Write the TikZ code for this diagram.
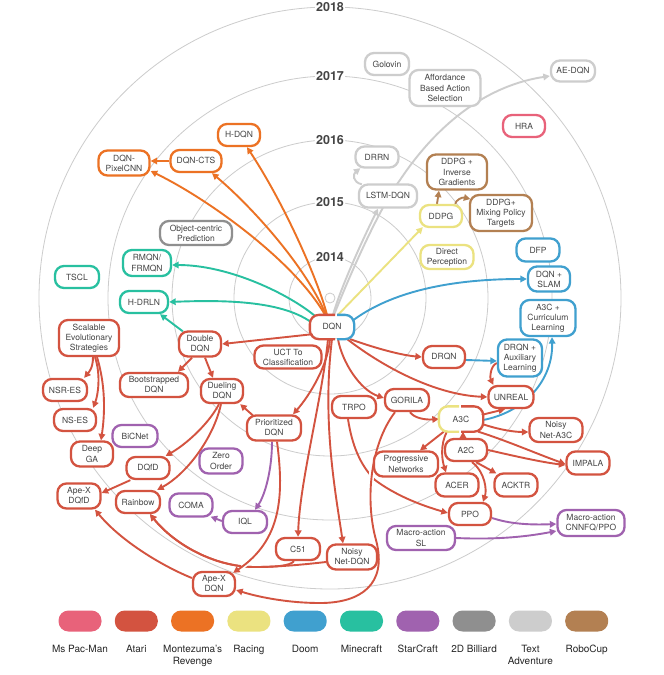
\documentclass[tikz,border=0pt]{standalone}
\usepackage{fontspec}
\setmainfont{TeX Gyre Heros}
\usetikzlibrary{arrows.meta,calc}
\pgfdeclarelayer{back}
\pgfdeclarelayer{mid}
\pgfsetlayers{back,mid,main}
\definecolor{cpink}{HTML}{E8627A}
\definecolor{cred}{HTML}{D35340}
\definecolor{corange}{HTML}{EC7224}
\definecolor{cyellow}{HTML}{EBE280}
\definecolor{cblue}{HTML}{40A0CF}
\definecolor{cteal}{HTML}{28C0A0}
\definecolor{cpurple}{HTML}{A062AF}
\definecolor{cdgray}{HTML}{8F8F8F}
\definecolor{clgray}{HTML}{CDCDCD}
\definecolor{cbrown}{HTML}{B38052}
\definecolor{ctext}{HTML}{444444}
\definecolor{cring}{HTML}{CCCCCC}
\begin{document}
\begin{tikzpicture}[x=1pt,y=-1pt,
  box/.style={draw=#1, line width=2.3pt, rounded corners=9pt, fill=white, text=ctext, align=center, inner sep=1pt, font=\fontsize{8.5}{10.2}\selectfont},
  sz/.style 2 args={minimum width=#1pt, minimum height=#2pt},
  lnk/.style={draw=#1, line width=1.9pt, -{Triangle[length=6.5pt,width=6.5pt]}},
  ring/.style={draw=cring, line width=0.8pt},
  year/.style={fill=white, text=ctext, inner sep=1.5pt, font=\bfseries\fontsize{12.5}{14}\selectfont},
  swatch/.style={fill=#1, draw=none, rounded corners=10pt, minimum width=43pt, minimum height=21pt},
  legtext/.style={anchor=north, align=center, text=black!85, font=\fontsize{10}{12.5}\selectfont, inner sep=0pt}
]
\useasboundingbox (0,0) rectangle (664,675);
\begin{pgfonlayer}{back}
\fill[white] (0,0) rectangle (664,675);
\coordinate (ctr) at (330,298);
\draw[ring] (ctr) circle (5);
\draw[ring] (ctr) circle (41);
\draw[ring] (ctr) circle (96);
\draw[ring] (ctr) circle (158);
\draw[ring] (ctr) circle (222);
\draw[ring] (ctr) circle (291);
\node[year] (y14) at (330,257) {2014};
\node[year] (y15) at (330,202) {2015};
\node[year] (y16) at (330,140) {2016};
\node[year] (y17) at (330,76) {2017};
\node[year] (y18) at (330,7) {2018};
\end{pgfonlayer}

% ---------- nodes ----------
\node[box=cred, draw=none, sz={42}{22}] (dqn) at (332,327) {DQN};
% Montezuma
\node[box=corange, sz={42}{22}] (hdqn) at (239,135) {H-DQN};
\node[box=corange, sz={51}{22}] (dqncts) at (196,161) {DQN-CTS};
\node[box=corange, sz={51}{25}] (pixelcnn) at (124,163) {DQN-\\PixelCNN};
% 2D billiard
\node[box=cdgray, sz={72}{24}] (objcentric) at (196,233) {Object-centric\\Prediction};
% Minecraft
\node[box=cteal, sz={48}{26}] (rmqn) at (147,263) {RMQN/\\FRMQN};
\node[box=cteal, sz={48}{22}] (hdrln) at (144,302) {H-DRLN};
\node[box=cteal, sz={44}{22}] (tscl) at (77,277) {TSCL};
% Atari
\node[box=cred, sz={42}{25}] (doubledqn) at (200,344) {Double\\DQN};
\node[box=cred, sz={67}{23}] (uct) at (288,357) {UCT To\\Classification};
\node[box=cred, sz={68}{24}] (bootstrapped) at (154,385) {Bootstrapped\\DQN};
\node[box=cred, sz={42}{24}] (dueling) at (222,391) {Dueling\\DQN};
\node[box=cred, sz={54}{25}] (prioritized) at (274,428) {Prioritized\\DQN};
\node[box=cred, sz={60}{36}] (ses) at (89,338) {Scalable\\Evolutionary\\Strategies};
\node[box=cred, sz={44}{22}] (nsres) at (65,390) {NSR-ES};
\node[box=cred, sz={42}{22}] (nses) at (75,420) {NS-ES};
\node[box=cred, sz={42}{25}] (deepga) at (92,454) {Deep\\GA};
\node[box=cred, sz={43}{22}] (dqfd) at (148,468) {DQfD};
\node[box=cred, sz={43}{25}] (apexdqfd) at (79,496) {Ape-X\\DQfD};
\node[box=cred, sz={44}{22}] (rainbow) at (138,502) {Rainbow};
\node[box=cred, sz={44}{22}] (c51) at (298,549) {C51};
\node[box=cred, sz={42}{24}] (apexdqn) at (214,584) {Ape-X\\DQN};
\node[box=cred, sz={50}{25}] (noisydqn) at (352,557) {Noisy\\Net-DQN};
\node[box=cred, sz={44}{22}] (trpo) at (354,407) {TRPO};
\node[box=cred, sz={44}{22}] (gorila) at (407,400) {GORILA};
\node[box=cred, sz={42}{22}] (drqn) at (444,357) {DRQN};
\node[box=cred, sz={45}{22}] (unreal) at (511,397) {UNREAL};
\node[box=cred, sz={53}{24}] (noisya3c) at (556,430) {Noisy\\Net-A3C};
\node[box=cred, sz={42}{22}] (a2c) at (466,450) {A2C};
\node[box=cred, sz={43}{23}] (impala) at (588,463) {IMPALA};
\node[box=cred, sz={64}{25}] (prognets) at (406,464) {Progressive\\Networks};
\node[box=cred, sz={43}{23}] (acer) at (457,485) {ACER};
\node[box=cred, sz={43}{23}] (acktr) at (516,485) {ACKTR};
\node[box=cred, sz={42}{22}] (ppo) at (470,514) {PPO};
\node[box=cred, draw=none, sz={42}{23}] (a3c) at (461,419) {A3C};
% StarCraft
\node[box=cpurple, sz={45}{22}] (bicnet) at (135,436) {BiCNet};
\node[box=cpurple, sz={43}{25}] (zeroorder) at (221,461) {Zero\\Order};
\node[box=cpurple, sz={43}{23}] (coma) at (191,505) {COMA};
\node[box=cpurple, sz={44}{22}] (iql) at (245,522) {IQL};
\node[box=cpurple, sz={68}{24}] (macrosl) at (421,538) {Macro-action\\SL};
\node[box=cpurple, sz={67}{26}] (macrocnn) at (591,523) {Macro-action\\CNNFQ/PPO};
% Doom
\node[box=cblue, sz={44}{37}] (drqnaux) at (520,358) {DRQN +\\Auxiliary\\Learning};
\node[box=cblue, sz={43}{23}] (dfp) at (538,250) {DFP};
\node[box=cblue, sz={42}{25}] (dqnslam) at (549,279) {DQN +\\SLAM};
\node[box=cblue, sz={55}{36}] (a3ccurr) at (548,318) {A3C +\\Curriculum\\Learning};
% Racing
\node[box=cyellow, sz={42}{22}] (ddpg) at (441,216) {DDPG};
\node[box=cyellow, sz={53}{24}] (directperc) at (447,257) {Direct\\Perception};
% RoboCup
\node[box=cbrown, sz={60}{35}] (ddpgig) at (457,172) {DDPG +\\Inverse\\Gradients};
\node[box=cbrown, sz={62}{36}] (ddpgmix) at (501,213) {DDPG+\\Mixing Policy\\Targets};
% Text adventure
\node[box=clgray, sz={44}{22}] (golovin) at (387,64) {Golovin};
\node[box=clgray, sz={71}{36}] (affordance) at (445,88) {Affordance\\Based Action\\Selection};
\node[box=clgray, sz={44}{21}] (aedqn) at (573,71) {AE-DQN};
\node[box=clgray, sz={43}{21}] (drrn) at (377,157) {DRRN};
\node[box=clgray, sz={58}{23}] (lstmdqn) at (388,196) {LSTM-DQN};
% Ms Pac-Man
\node[box=cpink, sz={42}{22}] (hra) at (524,126) {HRA};

% bicolour borders
\begin{scope}
\clip ($(dqn.south west)+(-4,4)$) rectangle ($(dqn.north)+(3,-4)$);
\draw[cred, line width=2.3pt, rounded corners=9pt] (dqn.south west) rectangle (dqn.north east);
\end{scope}
\begin{scope}
\clip ($(dqn.north)+(5,-4)$) rectangle ($(dqn.south east)+(4,4)$);
\draw[cblue, line width=2.3pt, rounded corners=9pt] (dqn.south west) rectangle (dqn.north east);
\end{scope}
\begin{scope}
\clip ($(a3c.south west)+(-4,4)$) rectangle ($(a3c.north)+(-2,-4)$);
\draw[cyellow, line width=2.3pt, rounded corners=9pt] (a3c.south west) rectangle (a3c.north east);
\end{scope}
\begin{scope}
\clip ($(a3c.north)+(0,-4)$) rectangle ($(a3c.south east)+(4,4)$);
\draw[cred, line width=2.3pt, rounded corners=9pt] (a3c.south west) rectangle (a3c.north east);
\end{scope}

% ---------- connectors ----------
\begin{pgfonlayer}{mid}
% Montezuma
\draw[lnk=corange] ($(dqn.north)+(-5,0)$) .. controls (318,280) and (285,205) .. ($(hdqn.south)+(8,0)$);
\draw[lnk=corange] ($(dqn.north)+(-6,0)$) .. controls (305,265) and (250,205) .. ($(dqncts.south)+(16,0)$);
\draw[lnk=corange] ($(dqn.north)+(-7,0)$) .. controls (295,262) and (210,200) .. ($(pixelcnn.east)+(0,8)$);
\draw[lnk=corange] (dqncts.west) -- (dqncts.west -| pixelcnn.east);
% Minecraft
\draw[lnk=cteal] ($(dqn.north west)+(5,1)$) .. controls (290,295) and (230,265) .. ($(rmqn.east)+(0,2)$);
\draw[lnk=cteal] ($(dqn.west)+(1,-5)$) .. controls (280,300) and (220,300) .. (hdrln.east);
\draw[lnk=cteal] ($(doubledqn.north west)+(5,1)$) -- ($(hdrln.south)+(16,0)$);
% Racing
\draw[lnk=cyellow] ($(dqn.north)+(6,0)$) -- ($(ddpg.south west)+(4,-1)$);
% Text adventure
\draw[lnk=clgray] ($(dqn.north)+(1,0)$) .. controls (340,290) and (360,245) .. ($(lstmdqn.south)+(-10,0)$);
\draw[lnk=clgray] ($(dqn.north)+(2,0)$) .. controls (360,250) and (385,200) .. (400,180) .. controls (440,120) and (490,85) .. ($(aedqn.west)+(0,5)$);
\draw[lnk=clgray] ($(lstmdqn.north west)+(4,1)$) .. controls (352,182) and (353,174) .. ($(drrn.south west)+(6,-0.5)$);
% Doom
\draw[lnk=cblue] ($(dqn.east)+(-2,-6)$) .. controls (380,300) and (430,279) .. (dqnslam.west);
\draw[lnk=cblue] ($(drqn.east)+(0,3)$) -- ($(drqnaux.west)+(0,3)$);
\draw[lnk=cblue] ($(a3c.east)+(0,1)$) .. controls (525,412) and (553,380) .. ($(a3ccurr.south)+(4,0)$);
% RoboCup
\draw[lnk=cbrown] ($(ddpg.north)+(-4,0)$) -- ($(ddpgig.south)+(-18,0)$);
\draw[lnk=cbrown] ($(ddpg.north east)+(-8,0)$) .. controls (456,200) and (462,197) .. ($(ddpgmix.west)+(1.5,-14)$);
% Atari
\draw[lnk=cred] ($(dqn.south west)+(3,-5)$) -- (doubledqn.east);
\draw[lnk=cred] ($(dqn.south east)+(-4,0)$) .. controls (375,348) and (400,355) .. (drqn.west);
\draw[lnk=cred] ($(dqn.south east)+(-7,0)$) .. controls (390,372) and (440,395) .. (unreal.west);
\draw[lnk=cred] ($(dqn.south)+(6,0)$) .. controls (342,362) and (360,390) .. ($(gorila.west)+(0,-2)$);
\draw[lnk=cred] ($(dqn.south)+(-2,0)$) .. controls (328,365) and (310,395) .. ($(prioritized.north)+(19,0)$);
\draw[lnk=cred] ($(dqn.south)+(-4,0)$) .. controls (322,400) and (300,480) .. (c51.north);
\draw[lnk=cred] (dqn.south) .. controls (322,420) and (335,490) .. ($(noisydqn.north)+(-9,0)$);
\draw[lnk=cred] ($(prioritized.north west)+(7,1)$) -- ($(dueling.south east)+(-4,0)$);
\draw[lnk=cred] ($(doubledqn.south)+(-8,0)$) -- ($(bootstrapped.north)+(24,0)$);
\draw[lnk=cred] ($(doubledqn.south)+(5,0)$) -- ($(dueling.north)+(-9,0)$);
\draw[lnk=cred] ($(ses.south)+(4,0)$) .. controls (93,368) and (89,372) .. ($(nsres.north east)+(-4,0)$);
\draw[lnk=cred] ($(ses.south)+(6,0)$) .. controls (101,375) and (98,395) .. ($(nses.north east)+(-4,0)$);
\draw[lnk=cred] ($(ses.south)+(8,0)$) .. controls (107,390) and (104,420) .. ($(deepga.north)+(9,0)$);
\draw[lnk=cred] ($(dueling.south)+(-3,0)$) .. controls (208,425) and (185,445) .. ($(dqfd.north east)+(-5,0)$);
\draw[lnk=cred] ($(dueling.south)+(-1,0)$) .. controls (213,440) and (185,475) .. ($(rainbow.north east)+(-4,0)$);
\draw[lnk=cred] ($(dqfd.south west)+(5,0)$) -- ($(apexdqfd.east)+(0,-3)$);
\draw[lnk=cred] ($(apexdqn.west)+(0,-6)$) .. controls (160,565) and (120,540) .. ($(apexdqfd.south)+(16,0)$);
\draw[lnk=cred] ($(c51.south)+(-4,0)$) .. controls (290,566) and (275,567) .. (255,567) .. controls (215,567) and (175,545) .. ($(rainbow.south)+(12,0)$);
\draw[lnk=cred] ($(noisydqn.west)+(0,5)$) .. controls (300,565) and (275,567) .. (255,567) .. controls (215,567) and (175,545) .. ($(rainbow.south)+(12,0)$);
\begin{scope}
\clip (249,564) circle (8);
\draw[white, line width=6pt] ($(prioritized.south)+(3,0)$) .. controls (284,495) and (282,540) .. ($(apexdqn.north east)+(-3,2)$);
\end{scope}
\draw[lnk=cred] ($(prioritized.south)+(3,0)$) .. controls (284,495) and (282,540) .. ($(apexdqn.north east)+(-3,2)$);
\draw[lnk=cred] ($(trpo.south)+(-6,0)$) .. controls (352,445) and (360,465) .. (375,480) .. controls (395,495) and (420,505) .. ($(ppo.west)+(0,-1)$);
\begin{scope}
\clip (368,474) circle (8);
\draw[white, line width=6pt] ($(gorila.south)+(-12,0)$) .. controls (370,445) and (365,500) .. (376,540);
\end{scope}
\draw[lnk=cred] ($(gorila.south)+(-12,0)$) .. controls (370,445) and (365,500) .. (376,540) .. controls (388,585) and (360,603) .. (320,603) .. controls (285,603) and (255,596) .. ($(apexdqn.east)+(0,6)$);
\draw[lnk=cred] ($(gorila.south)+(3,0)$) .. controls (414,418) and (425,420) .. (a3c.west);
\draw[lnk=cred] ($(drqnaux.west)+(0,5)$) .. controls (490,366) and (490,378) .. ($(unreal.north west)+(6,0)$);
\draw[lnk=cred] ($(a3c.east)+(-2,-4)$) -- ($(unreal.south)+(-6,0)$);
\draw[lnk=cred] ($(a3c.east)+(-1,5)$) .. controls (500,430) and (515,432) .. ($(noisya3c.west)+(0,2)$);
\draw[lnk=cred] ($(a3c.south east)+(-5,0)$) .. controls (505,440) and (540,455) .. ($(impala.west)+(0,1)$);
\draw[lnk=cred] (a2c.east) .. controls (510,455) and (540,462) .. ($(impala.west)+(0,2)$);
\draw[lnk=cred] ($(a2c.north)+(-3,0)$) -- ($(a3c.south)+(2,0)$);
\draw[lnk=cred] ($(a3c.south west)+(5,0)$) -- ($(prognets.north)+(14,0)$);
\draw[lnk=cred] ($(a3c.south west)+(8,0)$) .. controls (440,445) and (442,460) .. ($(acer.north)+(-11,0)$);
\draw[lnk=cred] ($(a2c.south)+(10,0)$) -- ($(acktr.north west)+(3,1)$);
\draw[lnk=cred] ($(a2c.south)+(6,0)$) .. controls (485,472) and (487,490) .. ($(ppo.north)+(13,0)$);
% StarCraft
\draw[lnk=cpurple] ($(prioritized.south)+(-2,0)$) .. controls (272,470) and (265,495) .. ($(iql.north)+(10,0)$);
\draw[lnk=cpurple] ($(iql.west)+(0,-1)$) -- ($(coma.south east)+(-3,-1)$);
\draw[lnk=cpurple] ($(ppo.east)+(0,4)$) .. controls (510,524) and (530,525) .. ($(macrocnn.west)+(0,1)$);
\draw[lnk=cpurple] (macrosl.east) .. controls (500,540) and (530,536) .. ($(macrocnn.west)+(0,8)$);
\end{pgfonlayer}

% ---------- legend ----------
\node[swatch=cpink] (l1) at (80,621) {};
\node[swatch=cred] (l2) at (136.3,621) {};
\node[swatch=corange] (l3) at (192.6,621) {};
\node[swatch=cyellow] (l4) at (248.9,621) {};
\node[swatch=cblue] (l5) at (305.2,621) {};
\node[swatch=cteal] (l6) at (361.5,621) {};
\node[swatch=cpurple] (l7) at (417.8,621) {};
\node[swatch=cdgray] (l8) at (474.1,621) {};
\node[swatch=clgray] (l9) at (530.4,621) {};
\node[swatch=cbrown] (l10) at (586.7,621) {};
\node[legtext] (t1) at (80,645) {Ms Pac-Man};
\node[legtext] (t2) at (136.3,645) {Atari};
\node[legtext] (t3) at (192.6,645) {Montezuma's\\Revenge};
\node[legtext] (t4) at (248.9,645) {Racing};
\node[legtext] (t5) at (305.2,645) {Doom};
\node[legtext] (t6) at (361.5,645) {Minecraft};
\node[legtext] (t7) at (417.8,645) {StarCraft};
\node[legtext] (t8) at (474.1,645) {2D Billiard};
\node[legtext] (t9) at (530.4,645) {Text\\Adventure};
\node[legtext] (t10) at (586.7,645) {RoboCup};
\end{tikzpicture}
\end{document}
